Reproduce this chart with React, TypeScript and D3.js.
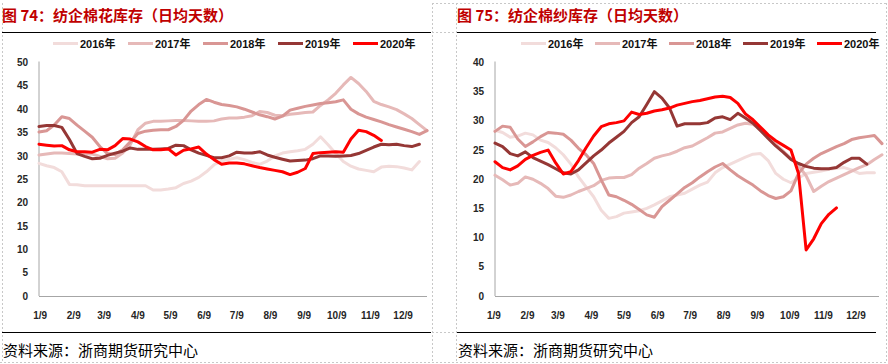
import React from "react";
import * as d3 from "d3";

// ---------- data ----------
const years = ["2016年", "2017年", "2018年", "2019年", "2020年"];
const monthLabels = ["1/9", "2/9", "3/9", "4/9", "5/9", "6/9", "7/9", "8/9", "9/9", "10/9", "11/9", "12/9"];
const monthLabelDays = [8, 39, 67, 98, 128, 159, 189, 220, 251, 281, 312, 342];

// 纺企棉花库存 (weekly)
const cotton2016 = [28.4, 27.9, 27.5, 26.6, 23.9, 23.8, 23.6, 23.6, 23.6, 23.6, 23.6, 23.6, 23.6, 23.6, 23.6, 22.7, 22.7, 22.9, 23.2, 24.1, 24.6, 25.4, 26.6, 28.1, 28.9, 29.3,
  29.6, 29.2, 28.6, 28.2, 28.9, 30.0, 30.6, 30.9, 31.1, 31.4, 32.5, 34.1, 32.4, 30.5, 28.8, 27.8, 27.2, 26.9, 26.6, 27.6, 27.8, 27.7, 27.4, 27.0, 28.8];
const cotton2017 = [30.2, 30.4, 30.6, 30.6, 30.5, 30.4, 30.4, 30.4, 29.9, 29.4, 29.5, 30.6, 32.4, 35.6, 37.0, 37.4, 37.4, 37.5, 37.6, 37.6, 37.5, 37.4, 37.4, 37.5, 37.9, 38.1,
  38.1, 38.3, 38.6, 39.5, 39.3, 38.7, 38.6, 38.9, 39.1, 39.3, 39.4, 40.8, 42.0, 43.4, 45.2, 46.8, 45.5, 43.8, 41.7, 41.0, 40.5, 39.9, 39.0, 38.0, 36.7, 35.4];
const cotton2018 = [35.1, 35.4, 36.6, 38.4, 38.0, 36.6, 35.3, 34.0, 32.0, 30.5, 30.3, 31.3, 33.0, 34.8, 35.3, 35.5, 35.6, 35.6, 36.3, 37.6, 39.6, 41.0, 42.1, 41.5, 41.0, 40.8,
  40.5, 40.0, 39.4, 38.8, 38.4, 37.9, 38.5, 39.8, 40.2, 40.6, 40.9, 41.2, 41.4, 41.6, 42.0, 40.0, 39.0, 38.3, 37.8, 37.3, 36.7, 36.2, 35.7, 35.2, 34.6, 35.4];
const cotton2019 = [36.3, 36.5, 36.5, 36.1, 33.5, 30.5, 29.9, 29.4, 29.5, 30.1, 30.6, 31.0, 31.7, 31.4, 31.4, 31.4, 31.5, 31.6, 32.3, 32.2, 31.3, 30.6, 30.1, 29.6, 29.6, 30.0,
  30.8, 30.6, 30.6, 30.9, 30.2, 29.7, 29.3, 28.9, 29.0, 29.1, 29.4, 30.0, 30.0, 29.9, 30.0, 30.1, 30.5, 31.2, 31.9, 32.5, 32.4, 32.5, 32.2, 32.0, 32.5];
const cotton2020 = [32.5, 32.3, 32.1, 32.2, 31.3, 30.9, 30.9, 30.8, 31.4, 31.3, 32.2, 33.7, 33.6, 33.0, 32.0, 31.3, 31.3, 31.5, 30.2, 31.2, 31.5, 31.9, 30.4, 29.2, 28.2, 28.5,
  28.5, 28.3, 27.9, 27.5, 27.2, 26.9, 26.6, 26.0, 26.5, 27.3, 30.5, 30.7, 30.8, 30.9, 30.8, 33.6, 35.5, 35.2, 34.4, 33.3];

// 纺企棉纱库存 (weekly)
const yarn2016 = [28.4, 28.0, 27.2, 27.4, 27.9, 27.6, 26.7, 26.3, 25.4, 24.2, 22.6, 20.4, 18.7, 17.0, 14.7, 13.3, 13.6, 14.2, 14.4, 14.6, 15.0, 15.6, 16.3, 17.0, 17.3, 17.6,
  18.3, 19.0, 19.5, 21.1, 22.0, 22.6, 23.2, 23.8, 24.3, 24.4, 23.2, 21.0, 20.0, 19.4, 20.2, 21.0, 21.2, 21.4, 21.7, 21.9, 22.0, 21.6, 21.0, 21.1, 21.1];
const yarn2017 = [20.7, 19.9, 19.0, 19.3, 20.4, 20.0, 19.3, 18.4, 17.1, 16.9, 17.3, 17.9, 18.4, 18.9, 19.8, 20.2, 20.3, 20.3, 20.8, 21.9, 22.7, 23.6, 24.0, 24.3, 24.8, 25.4,
  25.7, 26.4, 27.1, 27.9, 28.1, 28.7, 29.3, 29.6, 29.4, 28.5, 27.3, 26.0, 24.8, 23.6, 22.3, 20.6, 17.9, 18.8, 19.6, 20.2, 20.8, 21.4, 22.0, 22.5, 23.4, 24.2];
const yarn2018 = [28.2, 29.1, 28.9, 26.9, 25.6, 26.4, 27.3, 28.0, 27.9, 27.7, 26.7, 25.3, 24.2, 22.7, 19.9, 17.3, 17.0, 16.4, 15.7, 14.8, 13.9, 13.5, 15.3, 16.4, 17.5, 18.6,
  19.4, 20.4, 21.3, 22.1, 22.7, 21.6, 20.6, 19.8, 19.0, 18.0, 17.2, 16.7, 17.0, 18.0, 21.0, 22.6, 23.6, 24.4, 25.0, 25.6, 26.1, 26.8, 27.1, 27.3, 27.5, 26.1];
const yarn2019 = [26.2, 25.6, 24.4, 24.0, 24.7, 23.7, 23.1, 22.5, 21.8, 21.1, 20.9, 21.6, 22.8, 24.0, 25.0, 26.2, 27.2, 28.2, 29.7, 30.7, 32.8, 35.0, 33.9, 32.2, 29.1, 29.5,
  29.5, 29.5, 29.7, 30.5, 30.7, 30.2, 31.3, 30.5, 29.6, 28.3, 27.0, 25.7, 24.6, 23.4, 22.7, 22.2, 21.9, 21.8, 21.8, 22.0, 22.9, 23.6, 23.6, 22.6];
const yarn2020 = [23.0, 22.0, 21.6, 22.3, 23.4, 24.1, 24.6, 25.0, 22.8, 20.9, 21.3, 23.2, 25.4, 27.4, 29.0, 29.5, 29.7, 30.0, 31.5, 31.1, 31.3, 31.7, 31.9, 32.2, 32.7, 33.0,
  33.3, 33.5, 33.8, 34.1, 34.2, 34.0, 33.0, 31.2, 30.2, 28.9, 27.6, 26.6, 25.8, 25.0, 21.0, 7.9, 9.8, 12.4, 14.0, 15.1];

const cottonSeries = [cotton2016, cotton2017, cotton2018, cotton2019, cotton2020];
const yarnSeries = [yarn2016, yarn2017, yarn2018, yarn2019, yarn2020];

// ---------- styles ----------
const lineColors = ["#F2DCDB", "#E6B9B8", "#D99694", "#953735", "#FF0000"];
const titleColor = "#C00000";
const gridDash = "#C8C8C8";
const numFont = "'Liberation Sans', Arial, 'Noto Sans CJK SC', sans-serif";
const cjkFont = "'Noto Sans CJK SC', sans-serif";

type PanelProps = {
  title: string;
  series: number[][];
  yMax: number;
  left: number;
  right: number;
  x0: number;
  x1: number;
  axisEnd: number;
  startDay: number;
  legendX: number;
  legendStep: number;
};

function Panel(p: PanelProps) {
  const bottom = 296;
  const top = 62.5;
  const xs = d3.scaleLinear().domain([p.startDay, p.startDay + 51 * 7]).range([p.x0, p.x1]);
  const ys = d3.scaleLinear().domain([0, p.yMax]).range([bottom, top]);
  const yTicks = d3.range(0, p.yMax + 0.001, 5);
  const lineGen = d3
    .line<number>()
    .x((_, i) => xs(p.startDay + 7 * i))
    .y((d) => ys(d));

  return (
    <g>
      {/* title */}
      <text x={p.left} y={21} fill={titleColor} fontFamily={cjkFont} fontWeight={700} fontSize={15}>
        {p.title}
      </text>
      <line x1={p.left} x2={p.right} y1={32.5} y2={32.5} stroke="#000" strokeWidth={1.2} />

      {/* legend */}
      {years.map((y, k) => {
        const lx = p.legendX + k * p.legendStep;
        return (
          <g key={y}>
            <line x1={lx} x2={lx + 25} y1={43.5} y2={43.5} stroke={lineColors[k]} strokeWidth={3} />
            <text x={lx + 27} y={47.5} fontFamily={numFont} fontWeight={700} fontSize={11} fill="#111">
              {y}
            </text>
          </g>
        );
      })}

      {/* axes */}
      <line x1={p.x0} x2={p.x0} y1={top - 1} y2={bottom} stroke="#A6A6A6" strokeWidth={1} />
      <line x1={p.x0} x2={p.axisEnd} y1={bottom + 0.5} y2={bottom + 0.5} stroke="#A6A6A6" strokeWidth={1} />
      {yTicks.map((t) => (
        <text key={t} x={p.x0 - 11} y={ys(t) + 3.6} textAnchor="end" fontFamily={numFont} fontWeight={700} fontSize={10} fill="#262626">
          {t}
        </text>
      ))}
      {monthLabels.map((m, k) => (
        <text key={m} x={xs(monthLabelDays[k])} y={319} textAnchor="middle" fontFamily={numFont} fontWeight={700} fontSize={10} fill="#262626">
          {m}
        </text>
      ))}

      {/* series */}
      {p.series.map((s, k) => (
        <path key={k} d={lineGen(s) || ""} fill="none" stroke={lineColors[k]} strokeWidth={3} strokeLinejoin="round" strokeLinecap="round" />
      ))}

      {/* footer */}
      <line x1={p.left} x2={p.right} y1={332.5} y2={332.5} stroke="#000" strokeWidth={1.2} />
      <text x={p.left + 1} y={356} fontFamily={cjkFont} fontSize={15} fill="#000">
        资料来源：浙商期货研究中心
      </text>
    </g>
  );
}

export default function App() {
  return (
    <svg width={888} height={364} style={{ position: "fixed", left: 0, top: 0 }} xmlns="http://www.w3.org/2000/svg">
      <rect x={0} y={0} width={888} height={364} fill="#fff" />
      {/* dashed cell borders */}
      <g stroke={gridDash} strokeWidth={1} strokeDasharray="2,2" fill="none">
        <line x1={2.5} x2={2.5} y1={3} y2={362} />
        <line x1={432.5} x2={432.5} y1={3} y2={362} />
        <line x1={456.5} x2={456.5} y1={3} y2={362} />
        <line x1={886.5} x2={886.5} y1={3} y2={362} />
        <line x1={432} x2={888} y1={3.5} y2={3.5} />
        <line x1={432} x2={457} y1={32.5} y2={32.5} />
        <line x1={432} x2={457} y1={332.5} y2={332.5} />
        <line x1={0} x2={888} y1={362.5} y2={362.5} />
      </g>
      <Panel
        title="图 74：纺企棉花库存（日均天数）"
        series={cottonSeries}
        yMax={50}
        left={2}
        right={431}
        x0={39}
        x1={427}
        axisEnd={427}
        startDay={7}
        legendX={53}
        legendStep={75}
      />
      <Panel
        title="图 75：纺企棉纱库存（日均天数）"
        series={yarnSeries}
        yMax={40}
        left={457}
        right={876}
        x0={495}
        x1={882}
        axisEnd={879}
        startDay={9}
        legendX={521}
        legendStep={74}
      />
    </svg>
  );
}
